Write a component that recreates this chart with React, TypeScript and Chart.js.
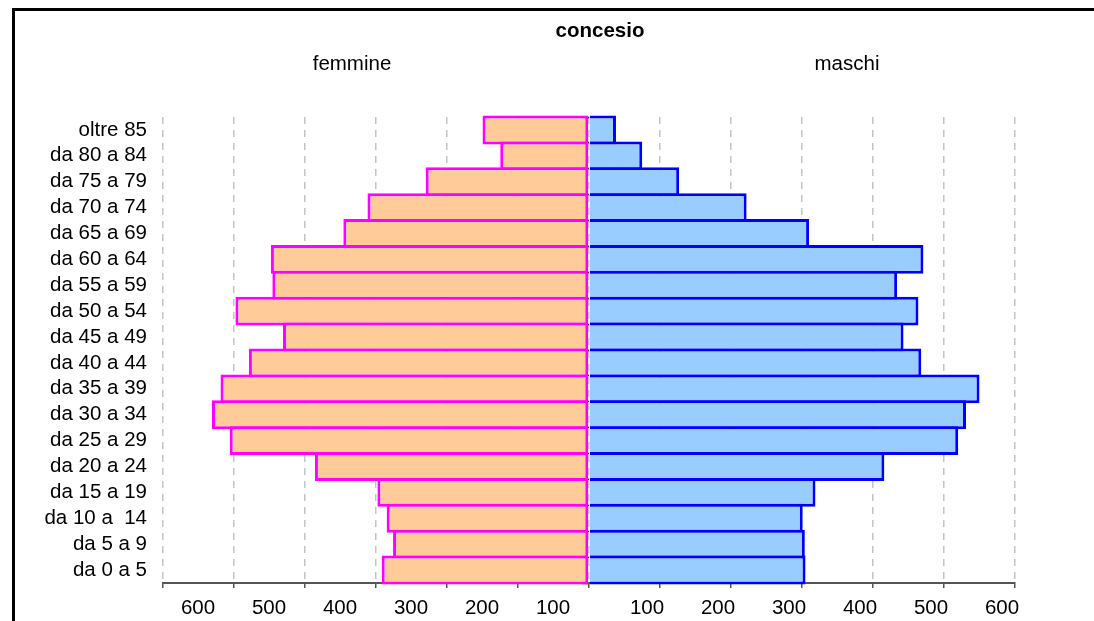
import React, { useEffect, useRef } from 'react';
import { Chart, registerables } from 'chart.js';

Chart.register(...registerables);

const chartTitle = 'concesio';
const sideTitles = ['femmine', 'maschi'];

const categories = [
  'oltre 85',
  'da 80 a 84',
  'da 75 a 79',
  'da 70 a 74',
  'da 65 a 69',
  'da 60 a 64',
  'da 55 a 59',
  'da 50 a 54',
  'da 45 a 49',
  'da 40 a 44',
  'da 35 a 39',
  'da 30 a 34',
  'da 25 a 29',
  'da 20 a 24',
  'da 15 a 19',
  'da 10 a  14',
  'da 5 a 9',
  'da 0 a 5',
];

const femmineValues = [150, 125, 230, 312, 346, 448, 446, 498, 431, 479, 519, 531, 506, 386, 298, 285, 276, 292];
const maschiValues = [38, 75, 127, 222, 310, 471, 434, 464, 443, 468, 550, 531, 520, 416, 319, 301, 304, 305];

const axisMin = -600;
const axisMax = 600;
const axisStep = 100;

const FONT_FAMILY = '"Liberation Sans", Arial, Helvetica, sans-serif';
const FONT_SIZE = 20.5;

const headerPlugin = {
  id: 'headerTexts',
  afterDraw(chart: any) {
    const ctx = chart.ctx;
    ctx.save();
    ctx.fillStyle = '#000';
    ctx.textAlign = 'center';
    ctx.textBaseline = 'alphabetic';
    ctx.font = `bold ${FONT_SIZE}px ${FONT_FAMILY}`;
    ctx.fillText(chartTitle, 600, 37);
    ctx.font = `${FONT_SIZE}px ${FONT_FAMILY}`;
    ctx.fillText(sideTitles[0], 352, 70);
    ctx.fillText(sideTitles[1], 847, 70);
    ctx.restore();
  },
};

export default function App() {
  const canvasRef = useRef<HTMLCanvasElement | null>(null);

  useEffect(() => {
    if (!canvasRef.current) return;
    const tickFont = { family: FONT_FAMILY, size: FONT_SIZE };
    const chart = new Chart(canvasRef.current, {
      type: 'bar',
      data: {
        labels: categories,
        datasets: [
          {
            label: sideTitles[0],
            data: femmineValues.map((v) => -v),
            backgroundColor: '#FFCC99',
            borderColor: '#FF00FF',
            borderWidth: 3,
            borderSkipped: false,
            barPercentage: 1.116,
            categoryPercentage: 1,
            xAxisID: 'x',
            yAxisID: 'y',
            clip: false,
          } as any,
          {
            label: sideTitles[1],
            data: maschiValues,
            backgroundColor: '#99CCFF',
            borderColor: '#0000FF',
            borderWidth: 3,
            borderSkipped: 'start',
            barPercentage: 1.116,
            categoryPercentage: 1,
            xAxisID: 'x',
            yAxisID: 'y',
            clip: false,
          } as any,
        ],
      },
      options: {
        indexAxis: 'y',
        animation: false,
        responsive: true,
        maintainAspectRatio: false,
        layout: { padding: { left: 0, right: 79, top: 117, bottom: 0 } },
        plugins: {
          legend: { display: false },
          tooltip: { enabled: false },
          title: { display: false },
        },
        scales: {
          x: {
            type: 'linear',
            position: 'bottom',
            min: axisMin,
            max: axisMax,
            stacked: true,
            grid: {
              color: '#c4c4c4',
              lineWidth: 1.5,
              drawTicks: true,
              tickLength: 5,
              tickColor: '#555',
              tickWidth: 1.5,
            },
            border: { display: true, color: '#555', width: 2, dash: [7, 6] },
            ticks: {
              stepSize: axisStep,
              autoSkip: false,
              maxRotation: 0,
              padding: 8,
              labelOffset: 35,
              color: '#000',
              font: tickFont,
              callback: (v: any) => (Number(v) < 0 ? String(-Number(v)) : ''),
            },
            afterFit: (s: any) => {
              s.height = 38;
            },
          },
          x2: {
            type: 'linear',
            position: { y: 17.5 },
            min: axisMin,
            max: axisMax,
            grid: { display: false, drawTicks: false },
            border: { display: false },
            ticks: {
              stepSize: axisStep,
              autoSkip: false,
              maxRotation: 0,
              padding: 13,
              labelOffset: -13,
              color: '#000',
              font: tickFont,
              callback: (v: any) => (Number(v) > 0 ? String(v) : ''),
            },
          },
          y: {
            type: 'category',
            position: 'left',
            stacked: true,
            offset: true,
            grid: { display: false, drawTicks: false, offset: true },
            border: { display: false },
            ticks: {
              color: '#000',
              font: tickFont,
              padding: 16,
              autoSkip: false,
            },
            afterFit: (s: any) => {
              s.width = 163;
            },
          },
          y2: {
            type: 'category',
            position: { x: 0 },
            offset: true,
            grid: {
              display: true,
              drawOnChartArea: false,
              drawTicks: true,
              tickLength: 7,
              tickColor: '#222',
              tickWidth: 1.5,
              offset: true,
            },
            border: { display: false },
            ticks: { display: false, autoSkip: false },
          },
        } as any,
      },
      plugins: [headerPlugin],
    });
    return () => chart.destroy();
  }, []);

  return (
    <div
      style={{
        position: 'fixed',
        left: 0,
        top: 0,
        width: 1094,
        height: 621,
        overflow: 'hidden',
        background: '#fff',
      }}
    >
      <div
        style={{
          position: 'absolute',
          left: 12,
          top: 8,
          width: 1200,
          height: 700,
          borderLeft: '3px solid #000',
          borderTop: '3px solid #000',
        }}
      />
      <div style={{ position: 'absolute', left: 0, top: 0, width: 1094, height: 621 }}>
        <canvas ref={canvasRef} />
      </div>
    </div>
  );
}
